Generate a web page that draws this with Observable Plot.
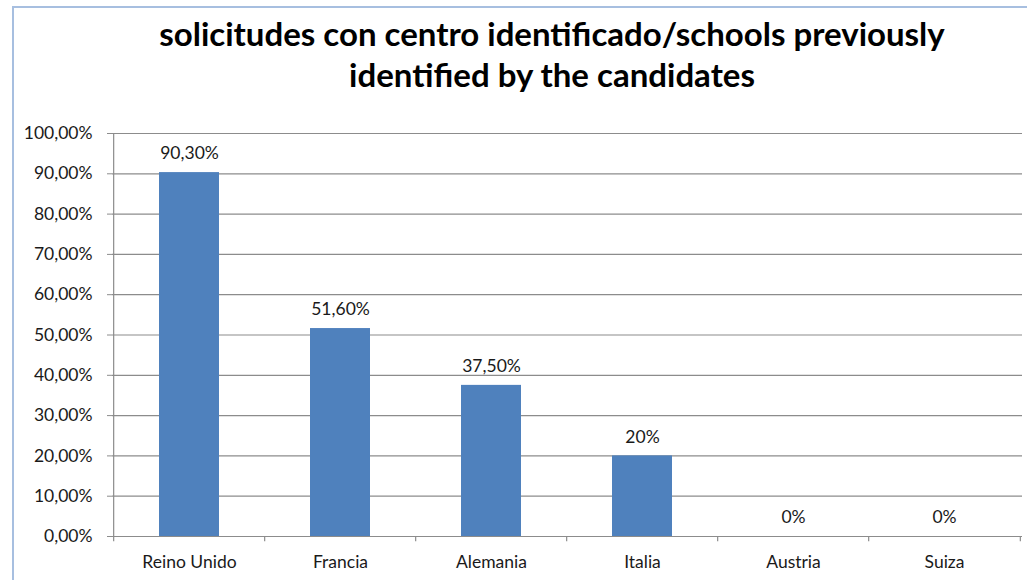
<!DOCTYPE html>
<html>
<head>
<meta charset="utf-8">
<script src="https://cdn.jsdelivr.net/npm/d3@7"></script>
<script src="https://cdn.jsdelivr.net/npm/@observablehq/plot@0.6"></script>
<style>
  html, body { margin: 0; padding: 0; background: #fff; }
  #wrap { position: relative; width: 1027px; height: 580px; overflow: hidden; font-family: Lato, "Open Sans", sans-serif; }
  #frame { position: absolute; left: 12px; top: 6px; width: 1030px; height: 590px; border-left: 2px solid #a7bfe0; border-top: 2px solid #a7bfe0; box-sizing: border-box; }
  #title { position: absolute; left: 80px; width: 944px; top: 13px; text-align: center; font-weight: 700; font-size: 33px; line-height: 41px; color: #000; }
  #chart { position: absolute; left: 0; top: 110px; }
</style>
</head>
<body>
<div id="wrap">
  <div id="frame"></div>
  <div id="title">solicitudes con centro identificado/schools previously<br>identified by the candidates</div>
  <div id="chart"></div>
</div>
<script>
const categories = ["Reino Unido", "Francia", "Alemania", "Italia", "Austria", "Suiza"];
const values = [0.903, 0.516, 0.375, 0.20, 0, 0];
const valueLabels = ["90,30%", "51,60%", "37,50%", "20%", "0%", "0%"];
const yTicks = [0, 0.1, 0.2, 0.3, 0.4, 0.5, 0.6, 0.7, 0.8, 0.9, 1.0];

const data = categories.map((c, i) => ({category: c, value: values[i], label: valueLabels[i]}));
const esFormat = d3.formatLocale({decimal: ",", thousands: ".", grouping: [3], currency: ["", "€"]}).format(".2%");

const W = 1027, H = 470, ML = 112, MR = 5, MT = 23, MB = 44;
const half = (W - ML - MR) / categories.length / 2;
const FS = 17.5;
const gray = "#8c8c8c";

const chart = Plot.plot({
  width: W,
  height: H,
  marginLeft: ML,
  marginRight: MR,
  marginTop: MT,
  marginBottom: MB,
  style: {fontFamily: "Lato, 'Open Sans', sans-serif", fontSize: FS + "px", color: "#1a1a1a", background: "transparent"},
  x: {type: "band", domain: categories, paddingInner: 0.6, paddingOuter: 0.3, label: null},
  y: {domain: [0, 1], label: null},
  marks: [
    Plot.gridY(yTicks, {stroke: gray, strokeOpacity: 1, strokeWidth: 1.2}),
    Plot.axisY(yTicks, {tickFormat: esFormat, tickSize: 5, tickPadding: 15, stroke: gray, fontSize: FS, fill: "#1a1a1a"}),
    Plot.axisX({tickSize: 0, tickPadding: 19, fontSize: FS, fill: "#1a1a1a"}),
    Plot.barY(data, {x: "category", y: "value", fill: "#4f81bd"}),
    Plot.ruleY([0], {stroke: gray, strokeWidth: 1.2}),
    Plot.text(data, {x: "category", y: "value", text: "label", dy: -19, fontSize: FS, fill: "#1a1a1a"}),
    // vertical y-axis line
    Plot.ruleX([categories[0]], {dx: -half, y1: 0, y2: 1, stroke: gray, strokeWidth: 1.2}),
    // x-axis ticks at category boundaries
    Plot.ruleX(categories, {dx: -half, y1: 0, y2: -0.013, stroke: gray, strokeWidth: 1.2, clip: false}),
    Plot.ruleX([categories[categories.length - 1]], {dx: half, y1: 0, y2: -0.013, stroke: gray, strokeWidth: 1.2, clip: false})
  ]
});
document.getElementById("chart").appendChild(chart);
</script>
</body>
</html>
